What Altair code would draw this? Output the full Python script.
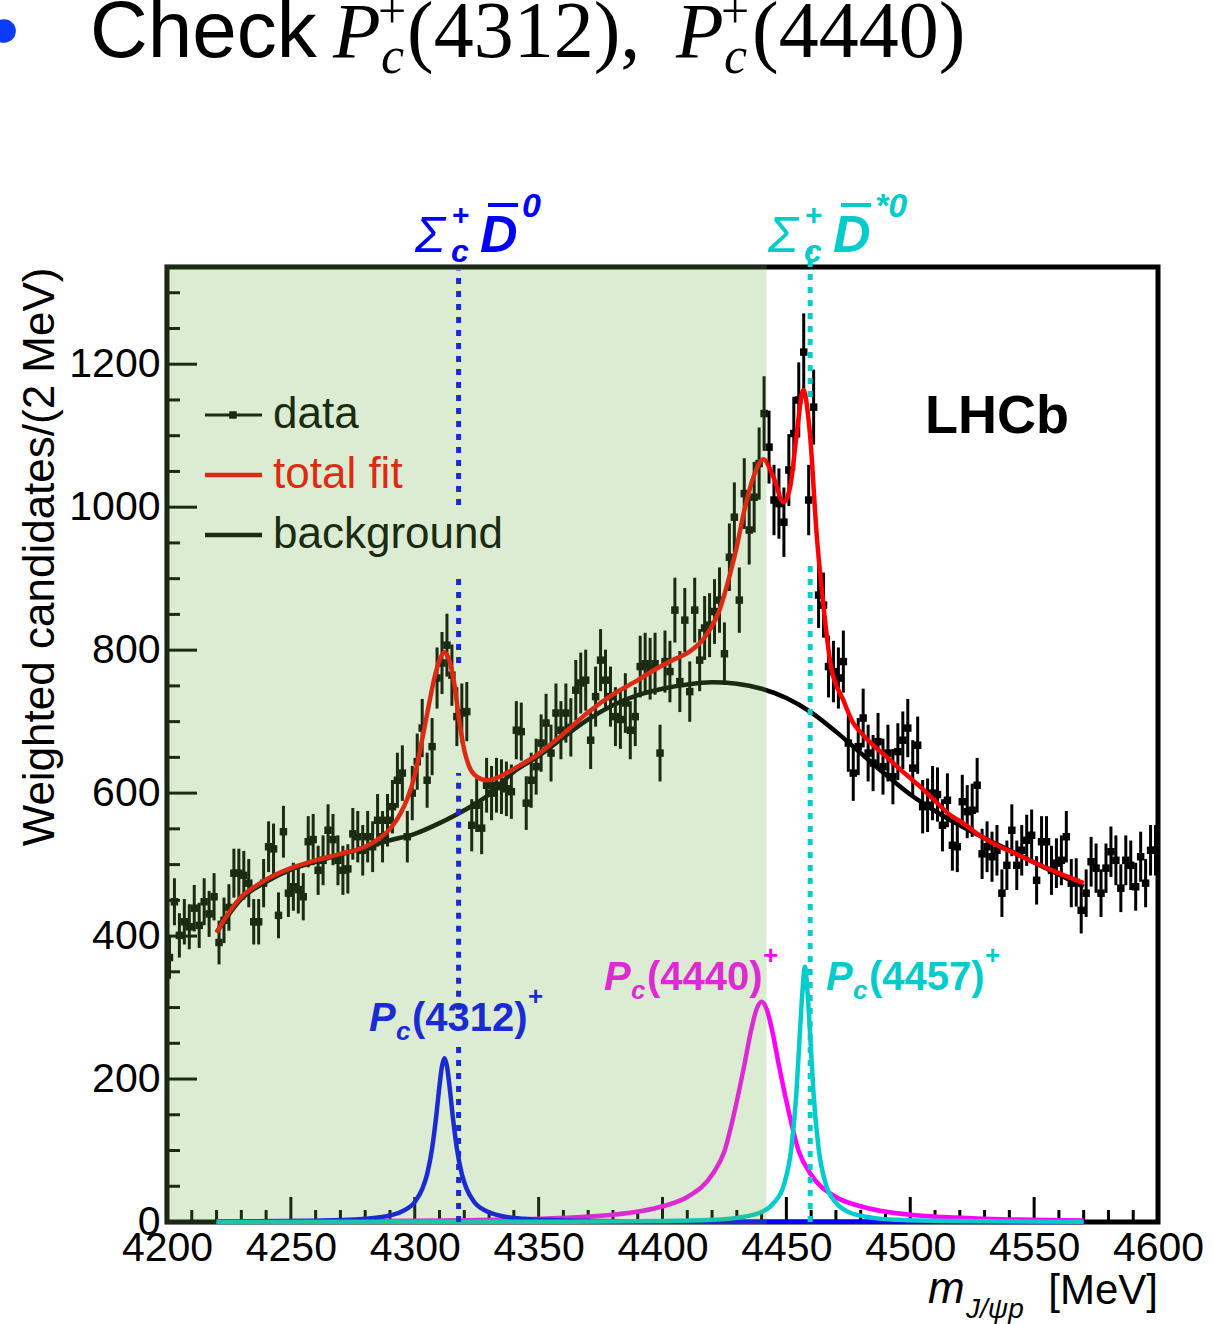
import altair as alt
import numpy as np
import pandas as pd

# ---------------------------------------------------------------
# J/psi p invariant-mass spectrum, 2 MeV bins from 4200 to 4600 MeV
# ---------------------------------------------------------------
BIN_START = 4200
BIN_WIDTH = 2

weighted_counts = [
    370, 448, 401, 420, 413, 439, 415, 448, 431, 455,
    391, 422, 440, 488, 488, 485, 474, 420, 420, 474,
    525, 522, 429, 546, 460, 469, 465, 455, 532, 535,
    492, 506, 548, 535, 506, 492, 494, 543, 539, 520,
    539, 525, 562, 539, 562, 581, 618, 628, 539, 600,
    644, 691, 618, 665, 761, 782, 807, 765, 707, 712,
    714, 555, 583, 551, 611, 600, 611, 609, 606, 602,
    688, 686, 586, 618, 637, 670, 698, 656, 712, 688,
    712, 692, 744, 754, 758, 674, 735, 786, 758, 735,
    707, 703, 726, 688, 707, 777, 781, 774, 781, 656,
    784, 770, 856, 756, 842, 742, 856, 786, 831, 835,
    854, 870, 795, 930, 986, 870, 1019, 968, 1014, 1061,
    1131, 1084, 1010, 1005, 979, 1052, 1103, 1150, 1217, 1010,
    1140, 877, 863, 777, 770, 761, 784, 670, 628, 665,
    705, 656, 642, 672, 637, 656, 623, 658, 674, 691,
    635, 667, 581, 583, 600, 598, 555, 590, 527, 525,
    588, 574, 576, 611, 515, 525, 511, 520, 460, 499,
    548, 499, 520, 534, 541, 478, 532, 532, 492, 502,
    506, 539, 474, 475, 436, 460, 504, 495, 460, 495,
    518, 506, 467, 506, 499, 469, 511, 474, 520, 520,
]
bin_centers = [BIN_START + BIN_WIDTH * (i + 0.5) for i in range(len(weighted_counts))]
# uncertainty of the sWeighted yields
count_errors = [1.55 * np.sqrt(c) for c in weighted_counts]

# fit components
bkg_mass = [4220, 4230, 4240, 4250, 4260, 4270, 4280, 4290, 4300, 4310, 4320, 4330,
            4340, 4350, 4360, 4370, 4380, 4390, 4400, 4410, 4420, 4430, 4440, 4450,
            4460, 4470, 4480, 4490, 4500, 4510, 4520, 4530, 4540, 4550, 4560, 4570]
bkg_vals = [405, 452, 476, 493, 504, 514, 524, 534, 543, 558, 576, 598,
            630, 652, 678, 703, 723, 737, 746, 752, 755, 753, 746, 733,
            713, 686, 656, 626, 598, 575, 555, 537, 520, 503, 486, 469]

fit_mass = [4220, 4225, 4230, 4235, 4240, 4250, 4260, 4270, 4280, 4285,
            4290, 4294, 4297, 4300, 4303, 4305.5, 4308, 4310, 4312, 4314,
            4316, 4318, 4320, 4322, 4325, 4329, 4333, 4337, 4343, 4350,
            4360, 4370, 4380, 4390, 4397, 4404, 4411, 4419, 4423, 4427,
            4430, 4433, 4437, 4440.7, 4444.7, 4448.8, 4451.5, 4454.2, 4456.8, 4459.5,
            4462.2, 4465, 4468, 4473, 4477, 4480, 4485, 4490, 4495, 4500,
            4504, 4510, 4517, 4520, 4528, 4535, 4540, 4550, 4560, 4570]
fit_vals = [405, 433, 455, 468, 479, 495, 506, 515, 525, 535,
            550, 570, 592, 625, 675, 720, 762, 786, 797, 785,
            752, 700, 660, 637, 623, 618, 621, 628, 640, 655,
            683, 713, 738, 758, 773, 786, 798, 828, 856, 903,
            945, 995, 1045, 1067, 1043, 1007, 1028, 1103, 1164, 1103,
            963, 861, 777, 730, 698, 685, 667, 652, 636, 621,
            609, 589, 567, 561, 541, 527, 519, 503, 488, 474]

pc4312_mass = [4220, 4260, 4280, 4290, 4295, 4300, 4303, 4305, 4307, 4308.5, 4310, 4311, 4312,
               4313, 4314, 4315.5, 4317, 4319, 4321, 4324, 4329, 4334, 4344, 4364, 4404, 4570]
pc4312_vals = [0.5, 1.7, 4.4, 9.2, 15, 28, 46, 67, 103, 143, 191, 218, 229,
               218, 191, 143, 103, 67, 46, 28, 15, 9.2, 4.4, 1.7, 0.5, 0.1]

pc4440_mass = [4220, 4300, 4350, 4380, 4400, 4410, 4420, 4425, 4430, 4433, 4436, 4438,
               4440, 4442, 4444, 4447, 4450, 4455, 4460, 4470, 4480, 4500, 4530, 4570]
pc4440_vals = [0.8, 1.9, 4.6, 10, 22, 35, 66, 99, 169, 219, 272, 298,
               308, 298, 272, 219, 169, 99, 66, 35, 22, 10, 4.6, 2.2]

pc4457_mass = [4220, 4350, 4400, 4420, 4430, 4440, 4445, 4449, 4452, 4454, 4455.5, 4456.5,
               4457.5, 4458.5, 4459.5, 4461, 4463, 4466, 4470, 4475, 4485, 4495, 4515, 4570]
pc4457_vals = [0.1, 0.4, 1.3, 3, 5.8, 14, 27, 52, 103, 178, 268, 323,
               357, 323, 268, 178, 103, 52, 27, 14, 5.8, 3, 1.3, 0.3]

# Sigma_c D-bar thresholds, drawn as broken dotted lines
sigma_d_threshold = 4317.7
sigma_dstar_threshold = 4459.6
sigma_d_segments = [(1003, 1331), (782, 909), (297, 628), (0, 248)]
sigma_dstar_segments = [(1154, 1368), (0, 922)]

# shaded mass window
shade_range = [4199.2, 4442]

x_tick_labels = list(range(4200, 4601, 50))
x_minor = [v for v in range(4200, 4601, 10) if v % 50]
y_tick_labels = list(range(0, 1201, 200))
y_minor = [v for v in range(0, 1301, 50) if v % 200]

# ---------------------------------------------------------------
W, H = 991, 955
SANS = "Liberation Sans"
SERIF = "Liberation Serif"
RED, BLUE, MAGENTA, CYAN = "#ff0000", "#0000ff", "#ff00ff", "#00cccc"

xs = alt.Scale(domain=[4200, 4600], nice=False, zero=False)
ys = alt.Scale(domain=[0, 1336], nice=False, zero=False)

x_axis = alt.Axis(values=x_tick_labels, format="d", labelFont=SANS, labelFontSize=41,
                  labelColor="black", labelPadding=6, ticks=False, domain=False,
                  grid=False, labelFlush=False, labelOverlap=False, title=None)
y_axis = alt.Axis(values=y_tick_labels, format="d", labelFont=SANS, labelFontSize=41,
                  labelColor="black", labelPadding=7, ticks=False, domain=False,
                  grid=False, labelOverlap=False,
                  title="Weighted candidates/(2 MeV)", titleFont=SANS,
                  titleFontSize=44, titleFontWeight="normal", titleColor="black",
                  titleAnchor="end", titlePadding=6)


def X(field):
    return alt.X(field, type="quantitative", scale=xs, axis=x_axis)


def Y(field):
    return alt.Y(field, type="quantitative", scale=ys, axis=y_axis)


ONE = pd.DataFrame({"k": [0]})


def label(text, x, y, size, color="black", font=SANS, style="normal",
          weight="normal", align="left", baseline="alphabetic"):
    return alt.Chart(ONE).mark_text(
        text=text, font=font, fontSize=size, fontStyle=style, fontWeight=weight,
        color=color, align=align, baseline=baseline,
    ).encode(x=alt.value(x), y=alt.value(y))


def hline(x1, x2, y, color, width=4):
    return alt.Chart(ONE).mark_rule(color=color, strokeWidth=width).encode(
        x=alt.value(x1), x2=alt.value(x2), y=alt.value(y))


data = pd.DataFrame({
    "m": bin_centers,
    "n": weighted_counts,
    "lo": [c - e for c, e in zip(weighted_counts, count_errors)],
    "hi": [c + e for c, e in zip(weighted_counts, count_errors)],
})

err_bars = alt.Chart(data).mark_rule(color="black", strokeWidth=3).encode(
    x=X("m"), y=Y("lo"), y2="hi")
points = alt.Chart(data).mark_square(size=56, color="black", opacity=1).encode(
    x=X("m"), y=Y("n"))


def curve(mass, vals, color, width=4.5):
    return alt.Chart(pd.DataFrame({"m": mass, "v": vals})).mark_line(
        color=color, strokeWidth=width, interpolate="monotone").encode(x=X("m"), y=Y("v"))


def dotted(mass, segments, color):
    df = pd.DataFrame({"m": [mass] * len(segments),
                       "lo": [s[0] for s in segments], "hi": [s[1] for s in segments]})
    return alt.Chart(df).mark_rule(color=color, strokeWidth=5, strokeDash=[6, 7],
                                   strokeCap="butt").encode(x=X("m"), y=Y("lo"), y2="hi")


# inward-pointing axis ticks
def x_ticks(vals, length):
    return alt.Chart(pd.DataFrame({"t": vals})).mark_rule(color="black", strokeWidth=3).encode(
        x=X("t"), y=alt.value(H), y2=alt.value(H - length))


def y_ticks(vals, length):
    return alt.Chart(pd.DataFrame({"t": vals})).mark_rule(color="black", strokeWidth=3).encode(
        y=Y("t"), x=alt.value(0), x2=alt.value(length))


layers = [
    err_bars, points,
    x_ticks(x_tick_labels, 25), x_ticks(x_minor, 12),
    y_ticks(y_tick_labels, 30), y_ticks(y_minor, 13),
    curve(bkg_mass, bkg_vals, "black"),
    curve(fit_mass, fit_vals, RED),
    curve(pc4440_mass, pc4440_vals, MAGENTA),
    curve(pc4312_mass, pc4312_vals, BLUE),
    curve(pc4457_mass, pc4457_vals, CYAN),
    dotted(sigma_d_threshold, sigma_d_segments, BLUE),
    dotted(sigma_dstar_threshold, sigma_dstar_segments, CYAN),
]

# legend
layers += [
    hline(38, 95, 148, "black", 3),
    alt.Chart(ONE).mark_square(size=56, color="black", opacity=1).encode(
        x=alt.value(66), y=alt.value(148)),
    label("data", 106, 148, 44, baseline="middle"),
    hline(38, 95, 208, RED, 4.5),
    label("total fit", 106, 208, 44, color=RED, baseline="middle"),
    hline(38, 95, 268, "black", 4.5),
    label("background", 106, 268, 44, baseline="middle"),
    label("LHCb", 758, 166, 54, weight="bold"),
]

# resonance labels
for x0, y0, name, col in [(202, 764, "(4312)", BLUE), (437, 723, "(4440)", MAGENTA),
                          (659, 723, "(4457)", CYAN)]:
    layers += [
        label("P", x0, y0, 40, color=col, style="italic", weight="bold"),
        label("c", x0 + 27, y0 + 9, 26, color=col, style="italic", weight="bold"),
        label(name, x0 + 43, y0, 40, color=col, weight="bold"),
        label("+", x0 + 159, y0 - 26, 26, color=col, weight="bold"),
    ]

# threshold labels above the frame
for x0, col, sup in [(248, BLUE, "0"), (601, CYAN, "*0")]:
    layers += [
        label("Σ", x0, -15, 50, color=col, style="italic"),
        label("+", x0 + 37, -42, 30, color=col, weight="bold"),
        label("c", x0 + 36, -5, 32, color=col, style="italic", weight="bold"),
        label("D", x0 + 65, -15, 52, color=col, style="italic", weight="bold"),
        hline(x0 + 73, x0 + 103, -62, col, 4),
        label(sup, x0 + 107, -50, 34, color=col, style="italic", weight="bold"),
    ]

# x-axis title
layers += [
    label("m", 761, 1036, 44, font=SANS, style="italic"),
    label("J/ψp", 799, 1051, 28, font=SANS, style="italic"),
    label("[MeV]", 991, 1037, 42, align="right"),
]

# slide heading
layers += [
    alt.Chart(ONE).mark_circle(size=560, color="#0a3cff", opacity=1).encode(
        x=alt.value(-163), y=alt.value(-236)),
    label("Check", -77, -210, 80),
    label("P", 166, -210, 78, font=SERIF, style="italic"),
    label("+", 211, -239, 50, font=SERIF),
    label("c", 214, -194, 52, font=SERIF, style="italic"),
    label("(4312),", 240, -210, 80, font=SERIF),
    label("P", 509, -210, 78, font=SERIF, style="italic"),
    label("+", 554, -239, 50, font=SERIF),
    label("c", 557, -194, 52, font=SERIF, style="italic"),
    label("(4440)", 585, -210, 80, font=SERIF),
]

# translucent green band over the low-mass window
shade = alt.Chart(pd.DataFrame({"a": [shade_range[0]], "b": [shade_range[1]]})).mark_rect(
    color="#6fb14a", opacity=0.243).encode(
    x=X("a"), x2="b", y=alt.value(-2), y2=alt.value(H + 2))
layers.append(shade)

chart = alt.layer(*layers).properties(
    width=W, height=H,
    autosize=alt.AutoSizeParams(type="none"),
    padding={"left": 167, "top": 267, "right": 55, "bottom": 102},
    background="white",
).configure_view(stroke="black", strokeWidth=5)

chart.save("out.html", embed_options={"renderer": "svg", "actions": False})
